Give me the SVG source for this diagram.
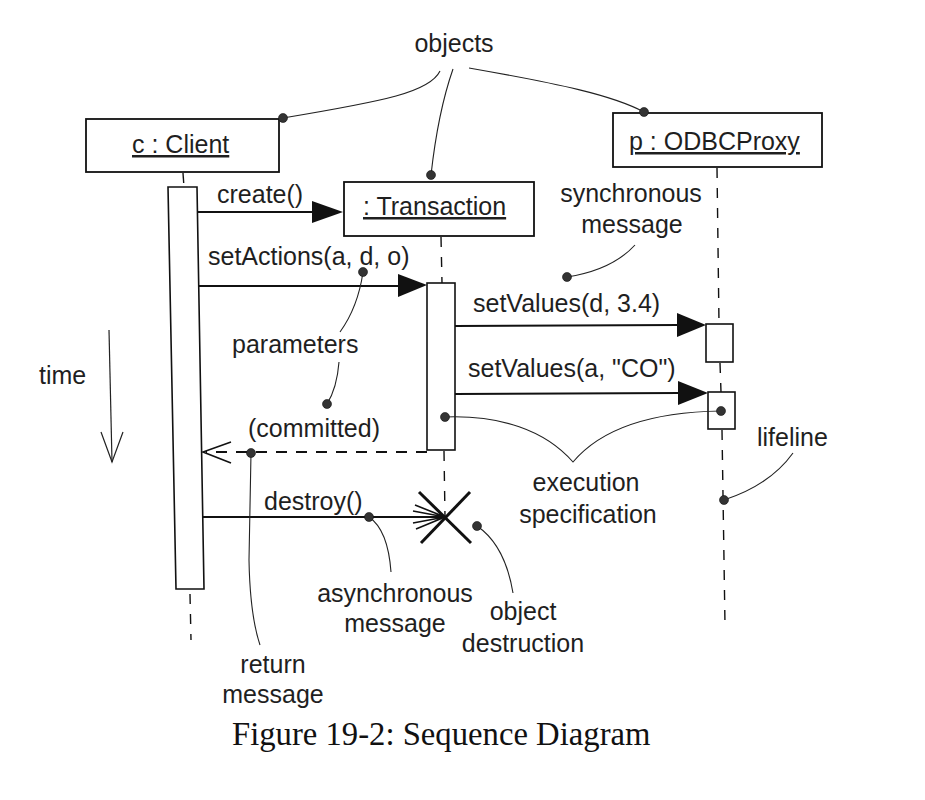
<svg xmlns="http://www.w3.org/2000/svg" width="925" height="800" viewBox="0 0 925 800">
<style>
text{font-family:"Liberation Sans",Arial,sans-serif;font-size:25px;fill:#1f1f1f}
.u{text-decoration:underline}
.m{text-anchor:middle}
.cap{font-family:"Liberation Serif","Times New Roman",serif;font-size:32.7px;fill:#111}
.box{fill:#fff;stroke:#111;stroke-width:1.8}
.act{fill:#fff;stroke:#111;stroke-width:1.6}
.life{fill:none;stroke:#111;stroke-width:1.4;stroke-dasharray:10 10}
.msg{fill:none;stroke:#111;stroke-width:1.8}
.ret{fill:none;stroke:#111;stroke-width:1.8;stroke-dasharray:11 9}
.head{fill:#111;stroke:none}
.open{fill:none;stroke:#111;stroke-width:1.6}
.note{fill:none;stroke:#222;stroke-width:1.1}
.dot{fill:#333;stroke:#111;stroke-width:0.6}
</style>
<rect width="925" height="800" fill="#fff"/>

<g id="client">
  <rect class="box" x="86" y="119" width="193" height="53"/>
  <text class="u" x="132" y="153">c : Client</text>
  <path class="life" d="M183,173 L184,187"/>
  <polygon class="act" points="168,187 197,187 204,589 176,589"/>
  <path class="life" d="M190,594 L191,640"/>
</g>

<g id="transaction">
  <rect class="box" x="344" y="182" width="190" height="54"/>
  <text class="u" x="363" y="215">: Transaction</text>
  <path class="life" d="M441,237 L442,283"/>
  <rect class="act" x="427" y="283" width="28" height="167"/>
  <path class="life" d="M444,451 L445,517"/>
  <g id="destruction">
    <line x1="419" y1="492" x2="471" y2="543" stroke="#111" stroke-width="3"/>
    <line x1="470" y1="492" x2="421" y2="543" stroke="#111" stroke-width="3"/>
  </g>
</g>

<g id="proxy">
  <rect class="box" x="613" y="113" width="209" height="54"/>
  <text class="u" x="629" y="150">p : ODBCProxy</text>
  <path class="life" d="M717,168 L719,324"/>
  <rect class="act" x="706" y="324" width="27" height="38"/>
  <path class="life" d="M720,363 L721,392"/>
  <rect class="act" x="708" y="392" width="27" height="37"/>
  <path class="life" d="M722,430 L725,625"/>
</g>

<g id="connectors">
  <line class="msg" x1="197" y1="212" x2="314" y2="212"/>
  <polygon class="head" points="312,201 343,212 312,223"/>
  <text x="217" y="203">create()</text>

  <line class="msg" x1="198" y1="286" x2="400" y2="286"/>
  <polygon class="head" points="398,274 427,285 398,297"/>
  <text x="208" y="265">setActions(a, d, o)</text>

  <line class="msg" x1="455" y1="326" x2="679" y2="325"/>
  <polygon class="head" points="677,313 706,325 677,337"/>
  <text x="473" y="312">setValues(d, 3.4)</text>

  <line class="msg" x1="455" y1="394" x2="680" y2="393"/>
  <polygon class="head" points="678,381 708,393 678,405"/>
  <text x="468" y="377">setValues(a, "CO")</text>

  <line class="ret" x1="427" y1="452" x2="206" y2="452"/>
  <polyline class="open" points="231,442 203,452 231,463"/>
  <text x="248" y="437">(committed)</text>

  <line class="msg" x1="203" y1="517" x2="445" y2="517"/>
  <path class="open" d="M415,505 L445,517 M413,511 L445,517 M413,523 L445,517 M416,529 L445,517"/>
  <text x="264" y="510">destroy()</text>
</g>

<g id="time">
  <line x1="109" y1="330" x2="112" y2="462" stroke="#222" stroke-width="1.2"/>
  <polyline points="101,432 112,462 123,432" fill="none" stroke="#222" stroke-width="1.2"/>
  <text x="39" y="384">time</text>
</g>

<g id="notes">
  <text class="m" x="454" y="52">objects</text>
  <path class="note" d="M440,71 C430,92 385,101 283,118"/>
  <path class="note" d="M453,69 Q438,112 431,175"/>
  <path class="note" d="M469,68 C560,84 612,95 644,112"/>

  <text class="m" x="631" y="202">synchronous</text>
  <text class="m" x="632" y="233">message</text>
  <path class="note" d="M635,245 Q612,270 567,277"/>

  <text x="232" y="353">parameters</text>
  <path class="note" d="M363,272 Q358,307 340,332"/>
  <path class="note" d="M339,362 Q337,388 327,404"/>

  <text class="m" x="273" y="673">return</text>
  <text class="m" x="273" y="703">message</text>
  <path class="note" d="M251,453 L249,560 Q250,615 260,645"/>

  <text class="m" x="395" y="602">asynchronous</text>
  <text class="m" x="395" y="632">message</text>
  <path class="note" d="M369,517 Q388,530 391,572"/>

  <text class="m" x="523" y="620">object</text>
  <text class="m" x="523" y="652">destruction</text>
  <path class="note" d="M477,526 Q505,545 513,593"/>

  <text class="m" x="586" y="491">execution</text>
  <text class="m" x="588" y="523">specification</text>
  <path class="note" d="M445,417 C500,415 545,430 573,462 C600,430 650,412 721,411"/>

  <text x="757" y="446">lifeline</text>
  <path class="note" d="M793,453 Q770,485 724,500"/>

  <circle class="dot" cx="283" cy="118" r="4.5"/>
  <circle class="dot" cx="431" cy="175" r="4.5"/>
  <circle class="dot" cx="644" cy="112" r="4.5"/>
  <circle class="dot" cx="567" cy="277" r="4.5"/>
  <circle class="dot" cx="363" cy="272" r="4.5"/>
  <circle class="dot" cx="327" cy="404" r="4.5"/>
  <circle class="dot" cx="251" cy="453" r="4.5"/>
  <circle class="dot" cx="445" cy="417" r="4.5"/>
  <circle class="dot" cx="721" cy="411" r="4.5"/>
  <circle class="dot" cx="369" cy="517" r="4.5"/>
  <circle class="dot" cx="477" cy="526" r="4.5"/>
  <circle class="dot" cx="724" cy="500" r="4.5"/>
</g>

<text class="cap" x="232" y="745">Figure 19-2: Sequence Diagram</text>
</svg>
